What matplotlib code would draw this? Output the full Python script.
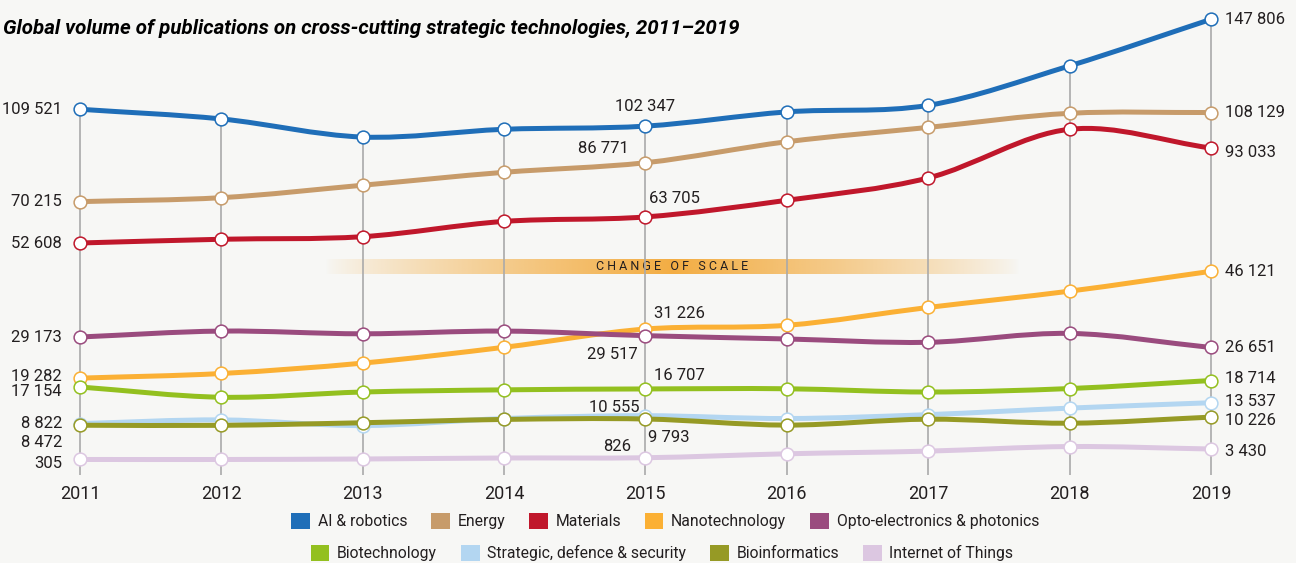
import numpy as np
import matplotlib
matplotlib.use('Agg')
import matplotlib.pyplot as plt
from matplotlib.path import Path
from matplotlib.patches import PathPatch, Patch
from matplotlib.colors import to_rgb

plt.rcParams['font.family'] = ['Roboto', 'DejaVu Sans']

# ---------------- data ----------------
years = [2011, 2012, 2013, 2014, 2015, 2016, 2017, 2018, 2019]

ai_robotics = [109521, 105400, 97700, 101000, 102347, 108400, 111200, 128000, 147806]
energy = [70215, 71900, 77200, 82700, 86771, 95700, 101800, 107800, 108129]
materials = [52608, 54200, 55300, 61800, 63705, 70800, 80300, 101000, 93033]
nanotechnology = [19282, 20400, 22900, 26700, 31226, 32200, 36800, 41000, 46121]
opto_photonics = [29173, 30700, 30000, 30700, 29517, 28700, 27900, 30100, 26651]
biotechnology = [17154, 14800, 16000, 16500, 16707, 16750, 16000, 16800, 18714]
strategic_defence = [8822, 9600, 8400, 9900, 10555, 9900, 10800, 12300, 13537]
bioinformatics = [8472, 8450, 9000, 9700, 9793, 8500, 9750, 8900, 10226]
internet_of_things = [305, 300, 450, 750, 826, 2000, 2800, 3950, 3430]

names = ['AI & robotics', 'Energy', 'Materials', 'Nanotechnology',
         'Opto-electronics & photonics', 'Biotechnology',
         'Strategic, defence & security', 'Bioinformatics', 'Internet of Things']
series = [ai_robotics, energy, materials, nanotechnology, opto_photonics,
          biotechnology, strategic_defence, bioinformatics, internet_of_things]
colors = ['#1f6eb8', '#c79b6a', '#c0172b', '#fbb034', '#9a4b7e',
          '#93c01f', '#b3d6f1', '#969a25', '#dcc7e1']

# label placement (pixel offsets from the marker: dx, dy downwards)
left_dy = {0: 0, 1: 0, 2: 0, 3: -2, 4: 1, 5: 5, 6: 0, 7: 17, 8: 4}
right_dy = {0: 0, 1: 0, 2: 4, 3: 0, 4: 0, 5: -2, 6: -1, 7: 3, 8: 3}
mid_pos = {0: (0, -20, 'center'), 1: (-17, -14, 'right'), 2: (4, -18, 'left'),
           3: (9, -16, 'left'), 4: (-8, 19, 'right'), 5: (9, -13, 'left'),
           6: (-6, -8, 'right'), 7: (3, 19, 'left'), 8: (-14, -11, 'right')}

# broken ("change of scale") axis: value -> height in pixels
V_KNOTS = [-5000, 0, 3430, 9793, 17154, 29173, 46121, 52608, 147806, 200000]
H_KNOTS = [-16.75, 0, 11.5, 41.5, 73.5, 123.5, 189.2, 217.5, 441.2, 563.9]


def fwd(v):
    return np.interp(v, V_KNOTS, H_KNOTS)


def inv(h):
    return np.interp(h, H_KNOTS, V_KNOTS)


def smooth_path(xs, vals):
    # catmull-rom through the points, drawn as cubic beziers in screen space
    h = fwd(np.asarray(vals, dtype=float))
    n = len(h)
    m = np.zeros(n)
    m[1:-1] = (h[2:] - h[:-2]) / 2
    m[0] = h[1] - h[0]
    m[-1] = h[-1] - h[-2]
    verts = [(xs[0], vals[0])]
    codes = [Path.MOVETO]
    for i in range(n - 1):
        verts.append((xs[i] + 1 / 3, inv(h[i] + m[i] / 3)))
        verts.append((xs[i + 1] - 1 / 3, inv(h[i + 1] - m[i + 1] / 3)))
        verts.append((xs[i + 1], vals[i + 1]))
        codes += [Path.CURVE4] * 3
    return Path(verts, codes)


def fmt(v):
    return f'{v:,}'.replace(',', ' ')


W, H = 1296, 563
BG = '#f7f7f5'
TXT = '#231f20'

fig = plt.figure(figsize=(W / 100, H / 100), dpi=100, facecolor=BG)

# change-of-scale band
bx = fig.add_axes([325 / W, 1 - 274 / H, 695 / W, 15 / H], zorder=0)
g = np.linspace(-1, 1, 500)
rgba = np.zeros((1, 500, 4))
rgba[..., :3] = to_rgb('#f3ad43')
rgba[..., 3] = np.clip(1 - np.abs(g), 0, 1) ** 0.8
bx.imshow(rgba, aspect='auto', extent=(0, 1, 0, 1))
bx.axis('off')
bx.text(0.5, 0.47, 'C H A N G E   O F   S C A L E', ha='center', va='center',
        fontsize=9, color=TXT)

ax = fig.add_axes([0, 1 - 475 / H, 1, 475 / H], zorder=1)
ax.set_facecolor('none')
ax.set_yscale('function', functions=(fwd, inv))
px_year = (1211 - 80) / 8
ax.set_xlim(2011 - 80 / px_year, 2019 + (W - 1211) / px_year)
ax.set_ylim(inv(-14.5), inv(460.5))
for s in ax.spines.values():
    s.set_visible(False)
ax.set_yticks([])
ax.set_xticks(years)
ax.set_xticklabels([str(y) for y in years], fontsize=13, color=TXT)
ax.tick_params(axis='x', length=0, pad=7)

ax.vlines(years, inv(-14.5), ai_robotics, color='#aaaaaa', lw=1.2, zorder=1)

for k, (vals, col) in enumerate(zip(series, colors)):
    z = 2 + k
    ax.add_patch(PathPatch(smooth_path(years, vals), fill=False, edgecolor=col,
                           lw=3.6, capstyle='round', joinstyle='round', zorder=z))
    ax.plot(years, vals, 'o', ms=9.2, mfc='white', mec=col, mew=1.1,
            zorder=z + 0.5, clip_on=False)

    ax.annotate(fmt(vals[0]), (years[0], vals[0]), xytext=(-18, -left_dy[k]),
                textcoords='offset pixels', ha='right', va='center',
                fontsize=12, color=TXT)
    ax.annotate(fmt(vals[-1]), (years[-1], vals[-1]), xytext=(14, -right_dy[k]),
                textcoords='offset pixels', ha='left', va='center',
                fontsize=12, color=TXT)
    dx, dy, ha = mid_pos[k]
    ax.annotate(fmt(vals[4]), (years[4], vals[4]), xytext=(dx, -dy),
                textcoords='offset pixels', ha=ha, va='center',
                fontsize=12, color=TXT)

fig.text(3 / W, 1 - 28 / H,
         'Global volume of publications on cross-cutting strategic technologies, 2011–2019',
         ha='left', va='center', fontsize=14.8, fontweight='bold', fontstyle='italic',
         color='black')

handles = [Patch(facecolor=c, edgecolor='none') for c in colors]
leg_kw = dict(frameon=False, fontsize=11.3, handlelength=1.2, handleheight=1.2,
              handletextpad=0.5, columnspacing=1.5, borderpad=0, labelcolor=TXT)
fig.legend(handles[:5], names[:5], loc='center', ncol=5,
           bbox_to_anchor=(665 / W, 1 - 521 / H), **leg_kw)
fig.legend(handles[5:], names[5:], loc='center', ncol=4,
           bbox_to_anchor=(662 / W, 1 - 553 / H), **leg_kw)

fig.savefig('out.png', dpi=100, facecolor=BG)
